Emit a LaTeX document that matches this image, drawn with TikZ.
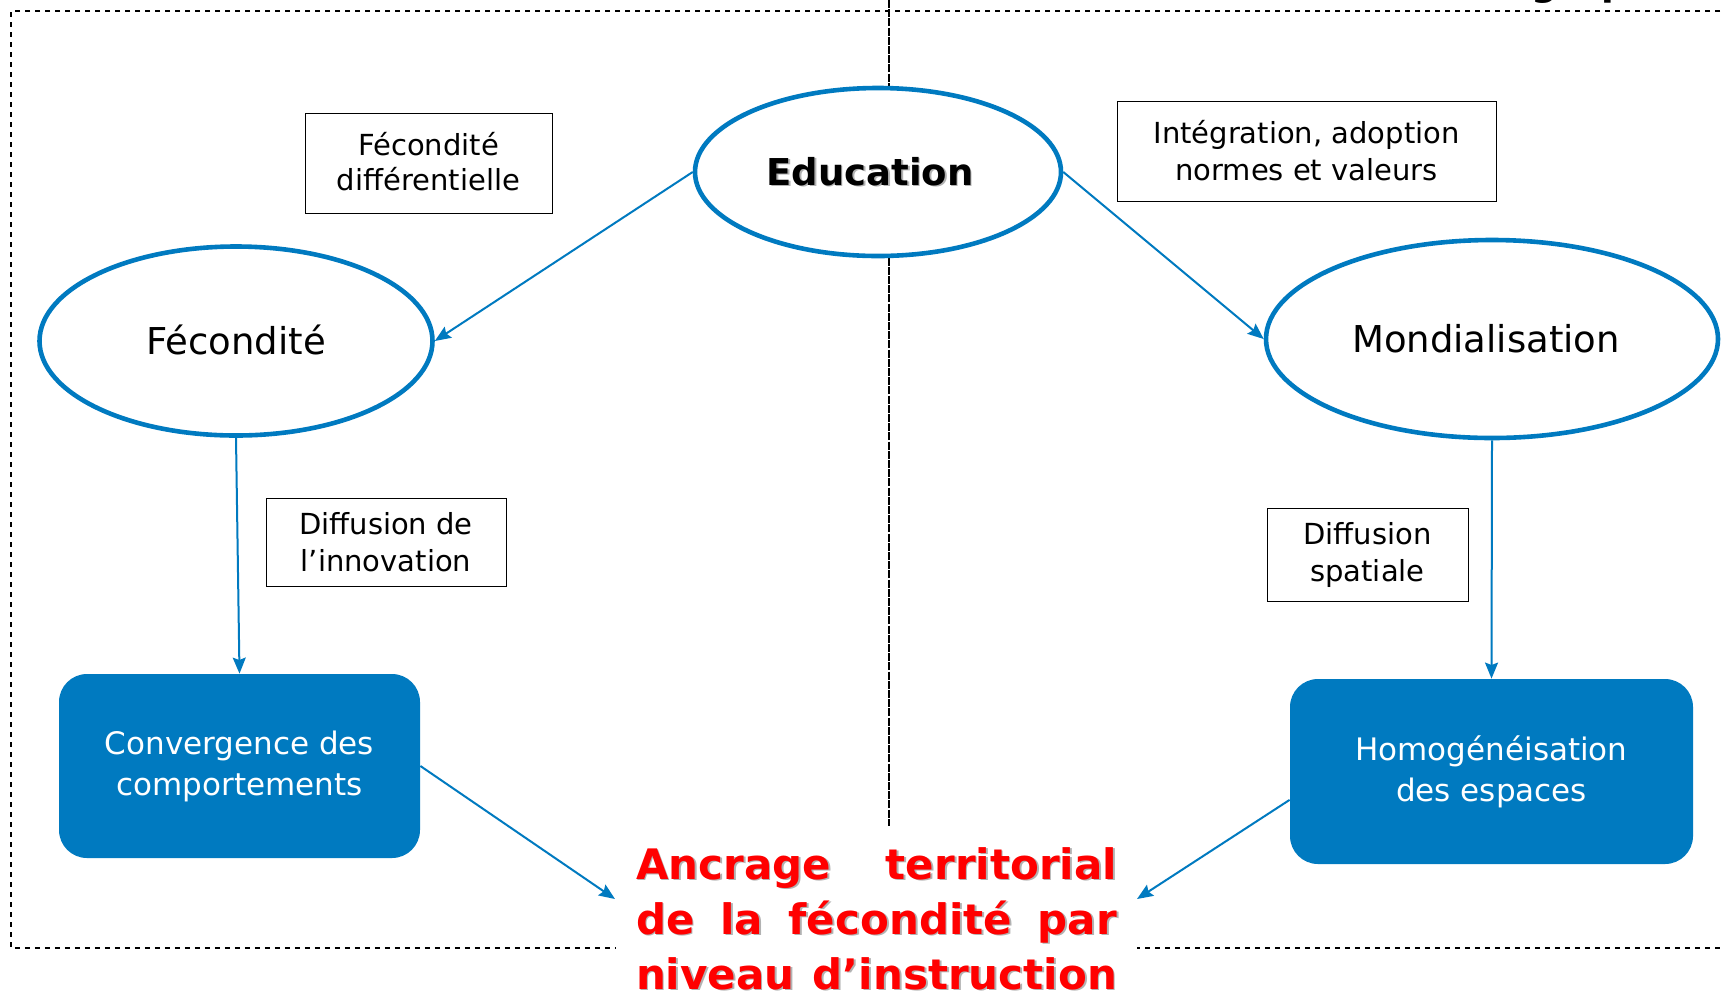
\documentclass[tikz,border=0pt]{standalone}
\usepackage{fontspec}
\setmainfont{DejaVu Sans}
\usetikzlibrary{shapes.geometric,arrows.meta,calc}
\definecolor{bl}{RGB}{0,122,192}
\definecolor{rd}{RGB}{255,0,0}
\newcommand\shtx[2]{\makebox[0pt][l]{\hspace{#1}\raisebox{-#1}{\color{black!30}#2}}#2}
\begin{document}
\begin{tikzpicture}[x=0.5pt,y=-0.5pt,
  oval/.style={ellipse, draw=bl, line width=2.3pt, fill=white, inner sep=0},
  lbl/.style={draw=black, line width=0.5pt, fill=white, align=center, inner sep=0,
    font=\fontsize{14.5}{18.5}\selectfont},
  bbox/.style={rounded corners=14pt, fill=bl, text=white, align=center, inner sep=0,
    font=\fontsize{15.5}{20.5}\selectfont},
  arr/.style={draw=bl, line width=1pt, -{Stealth[length=8pt,width=6.5pt,inset=1.2pt]}},
  frame/.style={draw=black, line width=0.8pt, dash pattern=on 2.6pt off 2.4pt},
  vline/.style={draw=black, line width=0.7pt, dash pattern=on 4pt off 0.6pt}
]
\useasboundingbox (0,0) rectangle (1723,992);
\fill[white] (0,0) rectangle (1723,992);
% title fragment above the picture
\node[anchor=base west, inner sep=0, font=\fontsize{18.5}{20}\selectfont\bfseries] (ttl) at (1531,-5) {grap};
% frame
\draw[frame] (1740,11) -- (11,11) -- (11,948) -- (1740,948);
% vertical separator
\coordinate (vt) at (889,0);
\coordinate (vb) at (889,826);
\draw[vline] (vt) -- (vb);
% ellipses
\node[oval, minimum width=183pt, minimum height=84pt,
  font=\fontsize{18.5}{20}\selectfont\bfseries] (edu) at (878,172) {\hspace*{-8pt}\shtx{0.8pt}{Education}};
\node[oval, minimum width=196.5pt, minimum height=94.5pt,
  font=\fontsize{18.5}{20}\selectfont] (fec) at (236,341) {\raisebox{1.5pt}{Fécondité}};
\node[oval, minimum width=226pt, minimum height=99pt,
  font=\fontsize{18.5}{20}\selectfont] (mon) at (1492,339) {\hspace*{-6pt}\raisebox{1pt}{Mondialisation}};
% label boxes
\node[lbl, minimum width=123.5pt, minimum height=50pt] (fd) at (428.5,163) {\raisebox{1.5pt}{\shortstack{Fécondité\\[2.4pt]différentielle}}};
\node[lbl, minimum width=189.5pt, minimum height=50pt] (ian) at (1306.5,151) {Intégration, adoption\\normes et valeurs};
\node[lbl, minimum width=120pt, minimum height=44pt] (di) at (386,542) {Diffusion de\\l’innovation};
\node[lbl, minimum width=100.5pt, minimum height=46.5pt] (ds) at (1367.5,554.5) {Diffusion\\spatiale};
% blue boxes
\node[bbox, minimum width=180.5pt, minimum height=92pt] (conv) at (239.5,766) {Convergence des\\comportements};
\node[bbox, minimum width=201.5pt, minimum height=92.5pt] (hom) at (1491.5,771.5) {Homogénéisation\\des espaces};
% conclusion text
\node[fill=white, inner xsep=10pt, inner ysep=3pt, anchor=base, text=rd,
  font=\fontsize{21}{27.5}\selectfont\bfseries] (anc) at (876.5,879)
  {\shtx{0.9pt}{\parbox[t]{240.5pt}{\makebox[240.5pt][s]{Ancrage territorial}\\
   \makebox[240.5pt][s]{de la fécondité par}\\
   \makebox[240.5pt][s]{niveau d’instruction}}}};
\coordinate (tl) at (615,899);
\coordinate (tr) at (1137,899);
% arrows
\draw[arr] (edu.west) -- (fec.east);
\draw[arr] (edu.east) -- (mon.west);
\draw[arr] (fec.south) -- (conv.north);
\draw[arr] (mon.south) -- (hom.north);
\draw[arr] (conv.east) -- (tl);
\draw[arr] (hom.188) -- (tr);
\end{tikzpicture}
\end{document}
